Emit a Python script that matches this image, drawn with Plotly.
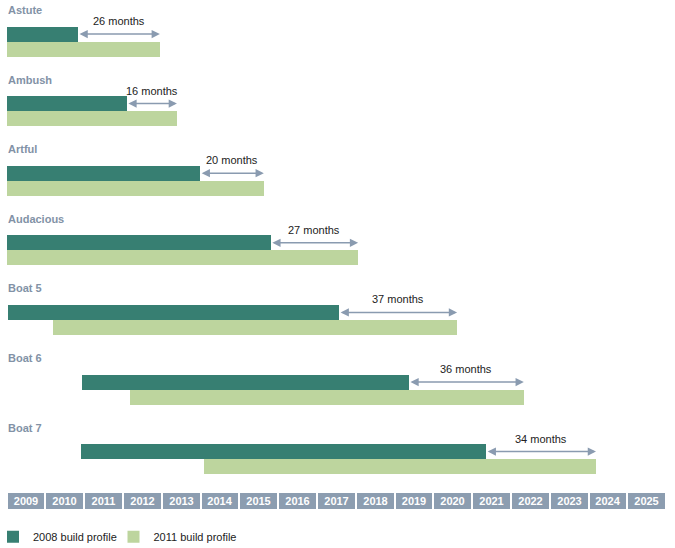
import plotly.graph_objects as go

# ---- data ----
ships = ["Astute", "Ambush", "Artful", "Audacious", "Boat 5", "Boat 6", "Boat 7"]
start_2008 = [2009.0, 2009.02, 2009.0, 2009.0, 2009.04, 2010.94, 2010.92]
end_2008 = [2010.84, 2012.10, 2013.99, 2015.81, 2017.57, 2019.37, 2021.36]
start_2011 = [2009.0, 2009.0, 2009.02, 2009.0, 2010.20, 2012.18, 2014.09]
end_2011 = [2012.95, 2013.39, 2015.63, 2018.06, 2020.61, 2022.33, 2024.19]
delay_labels = ["26 months", "16 months", "20 months", "27 months",
                "37 months", "36 months", "34 months"]
years = list(range(2009, 2026))
series_names = ["2008 build profile", "2011 build profile"]

# ---- styling / layout ----
DARK = "#377F72"
LIGHT = "#BDD59E"
AXIS_CELL = "#8C9DB0"
LABEL = "#8292A6"
ARROW = "#8A9BB0"
FONT = "Liberation Sans, Arial, sans-serif"

W, H = 675, 548
px_per_year = 38.8
x0_px = 6.6
xrange = [2009 - x0_px / px_per_year, 2009 + (W - x0_px) / px_per_year]

row_top = 34.0
row_step = 69.6
bar_h = 15
dark_y = [row_top + i * row_step for i in range(len(ships))]
light_y = [y + bar_h for y in dark_y]
axis_y = 501

fig = go.Figure()

fig.add_trace(go.Bar(
    orientation="h", y=dark_y,
    x=[e - s for s, e in zip(start_2008, end_2008)], base=start_2008,
    width=bar_h, marker=dict(color=DARK, line=dict(width=0)),
    name=series_names[0], hoverinfo="skip", legend="legend"))
fig.add_trace(go.Bar(
    orientation="h", y=light_y,
    x=[e - s for s, e in zip(start_2011, end_2011)], base=start_2011,
    width=bar_h, marker=dict(color=LIGHT, line=dict(width=0)),
    name=series_names[1], hoverinfo="skip", legend="legend2"))

# year axis cells
fig.add_trace(go.Bar(
    orientation="h", y=[axis_y] * len(years), x=[1] * len(years), base=years,
    width=18, marker=dict(color=AXIS_CELL, line=dict(color="white", width=2)),
    text=[str(y) for y in years], textposition="inside",
    insidetextanchor="middle",
    textfont=dict(color="white", size=11, family=FONT, weight="bold"),
    showlegend=False, hoverinfo="skip"))

annotations = []
for i, name in enumerate(ships):
    annotations.append(dict(
        x=0.009, xref="paper", y=dark_y[i] - 24, yref="y",
        text="<b>" + name + "</b>", showarrow=False, xanchor="left",
        font=dict(family=FONT, size=11, color=LABEL)))
    # double-headed arrow
    annotations.append(dict(
        x=end_2011[i], y=dark_y[i], xref="x", yref="y",
        ax=end_2008[i], ay=dark_y[i], axref="x", ayref="y",
        text="", showarrow=True, arrowside="end+start",
        arrowhead=2, arrowsize=1.1, arrowwidth=1.5, arrowcolor=ARROW,
        standoff=0, startstandoff=0))
    annotations.append(dict(
        x=(end_2008[i] + end_2011[i]) / 2, y=dark_y[i] - 13, xref="x", yref="y",
        text=delay_labels[i], showarrow=False,
        font=dict(family=FONT, size=11, color="#222222")))

legend_common = dict(orientation="h", xanchor="left", yanchor="bottom",
                     font=dict(family=FONT, size=11, color="#222222"),
                     itemwidth=30, bgcolor="rgba(0,0,0,0)")

fig.update_layout(
    width=W, height=H,
    margin=dict(l=0, r=0, t=0, b=0, autoexpand=False),
    paper_bgcolor="white", plot_bgcolor="white",
    barmode="overlay", bargap=0,
    xaxis=dict(range=xrange, visible=False, fixedrange=True),
    yaxis=dict(range=[H, 0], visible=False, fixedrange=True),
    showlegend=True,
    legend=dict(x=-7 / W, y=-0.006, **legend_common),
    legend2=dict(x=113.5 / W, y=-0.006, **legend_common),
    annotations=annotations,
)

fig.write_html("out.html", config={"displayModeBar": False},
               post_script="document.body.style.margin='0px';")
